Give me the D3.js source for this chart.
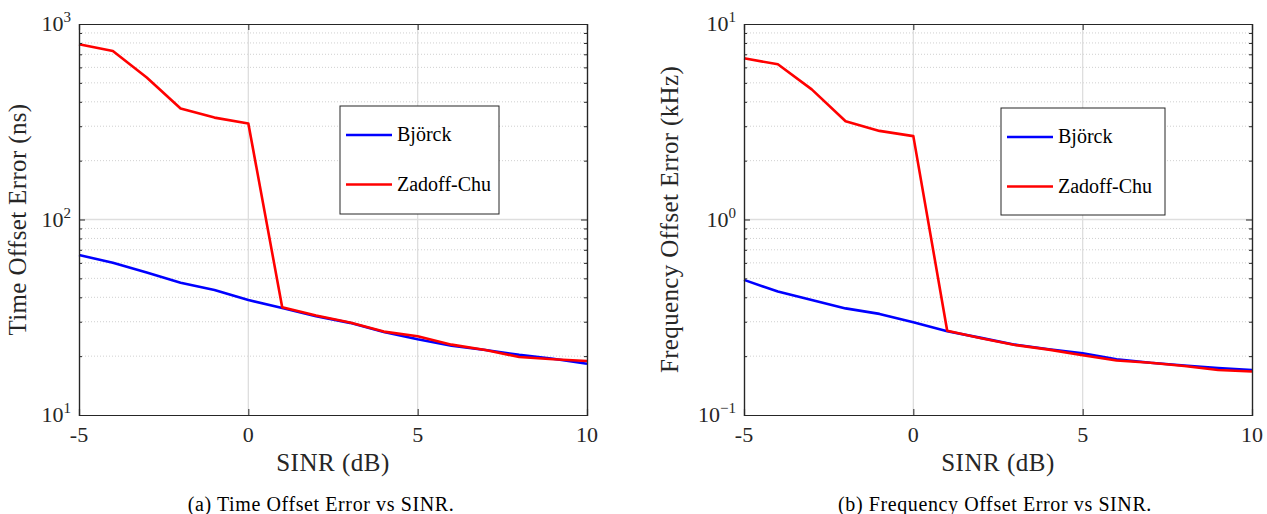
<!DOCTYPE html>
<html>
<head>
<meta charset="utf-8">
<script src="https://cdn.jsdelivr.net/npm/d3@7"></script>
<style>
  body { margin: 0; background: #fff; }
  svg text { font-family: "Liberation Serif", "DejaVu Serif", serif; fill: #262626; }
</style>
</head>
<body>
<svg id="chart" width="1267" height="514"></svg>
<script>
// SINR points shared by both panels
const sinr = [-5, -4, -3, -2, -1, 0, 1, 2, 3, 4, 5, 6, 7, 8, 9, 10];

// panel (a): time offset error (ns)
const timeBjorck = [65.8, 60.1, 53.5, 47.5, 43.6, 38.7, 35.3, 32.0, 29.6, 26.6, 24.4, 22.6, 21.5, 20.3, 19.4, 18.3];
const timeZC = [787, 728, 533, 370, 332, 310, 35.6, 32.3, 29.7, 26.7, 25.3, 22.9, 21.5, 19.8, 19.3, 18.9];

// panel (b): frequency offset error (kHz)
const freqBjorck = [0.491, 0.428, 0.387, 0.351, 0.329, 0.298, 0.268, 0.248, 0.229, 0.217, 0.207, 0.193, 0.185, 0.179, 0.174, 0.170];
const freqZC = [6.68, 6.22, 4.63, 3.18, 2.84, 2.67, 0.270, 0.247, 0.228, 0.216, 0.202, 0.190, 0.185, 0.178, 0.170, 0.167];

const xTicks = [-5, 0, 5, 10];
const seriesNames = ["Björck", "Zadoff-Chu"];
const seriesColors = ["#0000ff", "#ff0000"];

const svg = d3.select("#chart");

function panel(opts) {
  const { left, right, top, bottom, yDomain, data, yLabel, caption, legend } = opts;
  const g = svg.append("g");

  const x = d3.scaleLinear().domain([-5, 10]).range([left, right]);
  const y = d3.scaleLog().domain(yDomain).range([bottom, top]);

  const lo = Math.log10(yDomain[0]), hi = Math.log10(yDomain[1]);
  const majors = d3.range(lo, hi + 1).map(e => Math.pow(10, e));
  const minors = [];
  for (let e = lo; e < hi; e++) {
    for (let k = 2; k <= 9; k++) minors.push(k * Math.pow(10, e));
  }

  // minor grid (dotted)
  g.selectAll(".minor-grid")
    .data(minors)
    .join("line")
    .attr("x1", left).attr("x2", right)
    .attr("y1", d => y(d)).attr("y2", d => y(d))
    .attr("stroke", "#c4c4c4")
    .attr("stroke-width", 0.8)
    .attr("stroke-dasharray", "1,2");

  // major grid
  g.selectAll(".major-grid-y")
    .data(majors.slice(1, -1))
    .join("line")
    .attr("x1", left).attr("x2", right)
    .attr("y1", d => y(d)).attr("y2", d => y(d))
    .attr("stroke", "#dedede")
    .attr("stroke-width", 1.3);

  g.selectAll(".major-grid-x")
    .data(xTicks.slice(1, -1))
    .join("line")
    .attr("x1", d => x(d)).attr("x2", d => x(d))
    .attr("y1", top).attr("y2", bottom)
    .attr("stroke", "#dedede")
    .attr("stroke-width", 1.3);

  // lines
  const line = d3.line().x((d, i) => x(sinr[i])).y(d => y(d));
  data.forEach((vals, i) => {
    g.append("path")
      .datum(vals)
      .attr("d", line)
      .attr("fill", "none")
      .attr("stroke", seriesColors[i])
      .attr("stroke-width", 2.6)
      .attr("stroke-linejoin", "round");
  });

  // axes: ticks inward on all four sides
  const yAxisL = d3.axisLeft(y).tickValues(majors).tickSize(-6).tickFormat("");
  const yAxisR = d3.axisRight(y).tickValues(majors).tickSize(-6).tickFormat("");
  const yMinorL = d3.axisLeft(y).tickValues(minors).tickSize(-3).tickFormat("");
  const yMinorR = d3.axisRight(y).tickValues(minors).tickSize(-3).tickFormat("");
  const xAxisB = d3.axisBottom(x).tickValues(xTicks).tickSize(-6).tickFormat("");
  const xAxisT = d3.axisTop(x).tickValues(xTicks).tickSize(-6).tickFormat("");

  const axes = [
    [yAxisL, `translate(${left},0)`], [yMinorL, `translate(${left},0)`],
    [yAxisR, `translate(${right},0)`], [yMinorR, `translate(${right},0)`],
    [xAxisB, `translate(0,${bottom})`], [xAxisT, `translate(0,${top})`]
  ];
  axes.forEach(([ax, tr]) => {
    const a = g.append("g").attr("transform", tr).call(ax);
    a.selectAll("path").attr("stroke", "#262626").attr("stroke-width", 1.2);
    a.selectAll("line").attr("stroke", "#262626").attr("stroke-width", 1);
  });

  // y tick labels 10^n
  majors.forEach(v => {
    const e = Math.round(Math.log10(v));
    const t = g.append("text")
      .attr("x", left - 8)
      .attr("y", y(v) + 7)
      .attr("text-anchor", "end")
      .style("font-size", "22px");
    t.append("tspan").text("10");
    t.append("tspan")
      .attr("dy", -9)
      .style("font-size", "15px")
      .text(e < 0 ? "\u2212" + Math.abs(e) : e);
  });

  // x tick labels
  g.selectAll(".xlab")
    .data(xTicks)
    .join("text")
    .attr("x", d => x(d))
    .attr("y", bottom + 27)
    .attr("text-anchor", "middle")
    .style("font-size", "22px")
    .text(d => d);

  // axis labels
  g.append("text")
    .attr("x", (left + right) / 2)
    .attr("y", bottom + 56)
    .attr("text-anchor", "middle")
    .style("font-size", "25px")
    .style("letter-spacing", "0.5px")
    .text("SINR (dB)");

  g.append("text")
    .attr("transform", `translate(${opts.yLabelX},${(top + bottom) / 2}) rotate(-90)`)
    .attr("text-anchor", "middle")
    .style("font-size", "25px")
    .style("letter-spacing", "0.35px")
    .text(yLabel);

  // caption
  g.append("text")
    .attr("x", opts.captionX)
    .attr("y", 511)
    .attr("text-anchor", "middle")
    .style("font-size", "20px")
    .style("letter-spacing", "0.6px")
    .style("fill", "#000")
    .text(caption);

  // legend
  const lg = g.append("g");
  lg.append("rect")
    .attr("x", legend.x).attr("y", legend.y)
    .attr("width", legend.w).attr("height", legend.h)
    .attr("fill", "#fff")
    .attr("stroke", "#262626")
    .attr("stroke-width", 1);
  seriesNames.forEach((name, i) => {
    const ly = legend.y + 29 + i * 49.5;
    lg.append("line")
      .attr("x1", legend.x + 6).attr("x2", legend.x + 52)
      .attr("y1", ly).attr("y2", ly)
      .attr("stroke", seriesColors[i])
      .attr("stroke-width", 2.6);
    lg.append("text")
      .attr("x", legend.x + 57)
      .attr("y", ly + 6)
      .style("font-size", "20px")
      .style("fill", "#000")
      .text(name);
  });
}

panel({
  left: 79, right: 587, top: 24, bottom: 415,
  yDomain: [10, 1000],
  data: [timeBjorck, timeZC],
  yLabel: "Time Offset Error (ns)",
  yLabelX: 26,
  caption: "(a) Time Offset Error vs SINR.",
  captionX: 321,
  legend: { x: 340, y: 106, w: 159, h: 108 }
});

panel({
  left: 744, right: 1252, top: 24, bottom: 415,
  yDomain: [0.1, 10],
  data: [freqBjorck, freqZC],
  yLabel: "Frequency Offset Error (kHz)",
  yLabelX: 678,
  caption: "(b) Frequency Offset Error vs SINR.",
  captionX: 995,
  legend: { x: 1001, y: 108, w: 164, h: 107 }
});
</script>
</body>
</html>
